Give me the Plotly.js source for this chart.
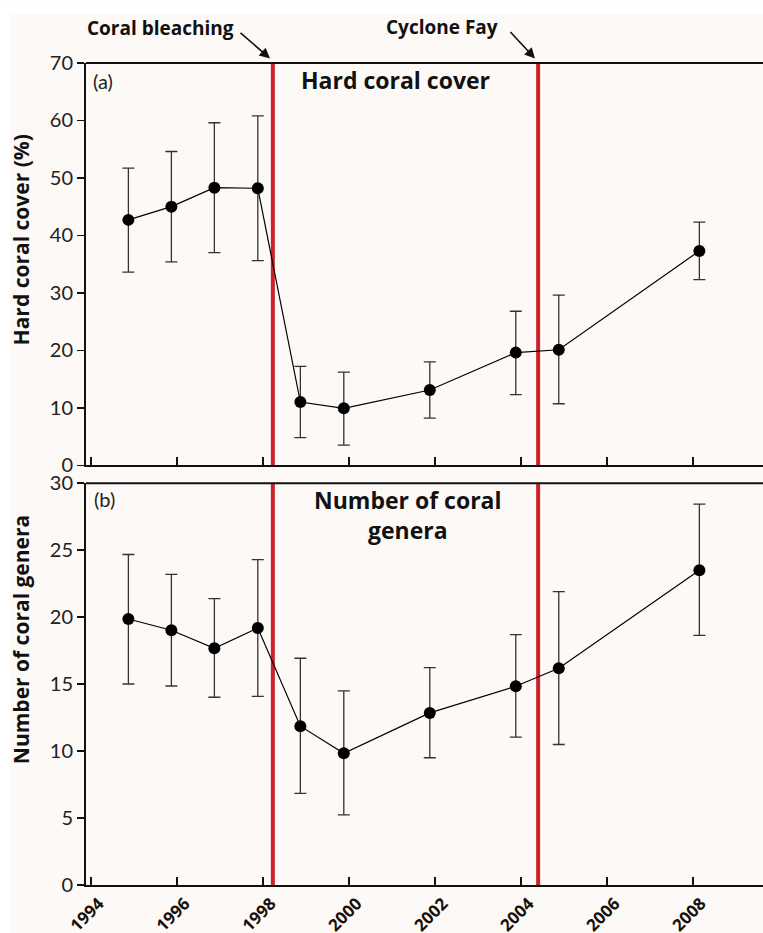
<!DOCTYPE html>
<html>
<head>
<meta charset="utf-8">
<script src="https://cdn.plot.ly/plotly-3.0.1.min.js"></script>
<style>html,body{margin:0;padding:0;background:#fff;}#chart{width:763px;height:933px;}</style>
</head>
<body>
<div id="chart"></div>
<script>
// ---- data ----
const surveyYears = [1994.87, 1995.87, 1996.87, 1997.88, 1998.87, 1999.88, 2001.88, 2003.88, 2004.88, 2008.15];

const coverMean  = [42.7, 45.0, 48.3, 48.2, 11.0, 9.9, 13.1, 19.6, 20.1, 37.3];
const coverUpper = [51.7, 54.6, 59.6, 60.8, 17.2, 16.2, 18.0, 26.8, 29.6, 42.3];
const coverLower = [33.6, 35.4, 37.0, 35.6, 4.8, 3.5, 8.2, 12.3, 10.7, 32.3];

const generaMean  = [19.86, 19.02, 17.67, 19.19, 11.86, 9.84, 12.85, 14.84, 16.18, 23.51];
const generaUpper = [24.68, 23.19, 21.38, 24.29, 16.93, 14.49, 16.23, 18.69, 21.90, 28.44];
const generaLower = [15.01, 14.86, 14.02, 14.09, 6.84, 5.24, 9.50, 11.04, 10.49, 18.64];

const eventYears  = [1998.23, 2004.40];
const eventLabels = ['Coral bleaching', 'Cyclone Fay'];

const xTickVals = [1994, 1996, 1998, 2000, 2002, 2004, 2006, 2008];
const xTickText = ['1994', '1996', '1998', '2000', '2002', '2004', '2006', '2008'];

const coverTicks  = [0, 10, 20, 30, 40, 50, 60, 70];
const generaTicks = [0, 5, 10, 15, 20, 25, 30];

// ---- layout helpers ----
const W = 763, H = 933, L = 86, R = 0, T = 62.5, B = 48;
const pw = W - L - R, ph = H - T - B;
const fx = px => (px - L) / pw;
const fy = py => (H - B - py) / ph;

const FONT = 'Lato, "Open Sans", sans-serif';
const BOLD = '"Open Sans", Lato, sans-serif';
const BG = '#fcf9f7';
const RED = '#cc2229';

function series(xa, ya, mean, upper, lower) {
  return {
    type: 'scatter', mode: 'lines+markers', xaxis: xa, yaxis: ya,
    x: surveyYears, y: mean,
    line: {color: '#000', width: 1.2},
    marker: {color: '#000', size: 12},
    error_y: {
      type: 'data', symmetric: false,
      array: upper.map((u, i) => u - mean[i]),
      arrayminus: mean.map((m, i) => m - lower[i]),
      color: '#333', thickness: 1.3, width: 6
    },
    hoverinfo: 'x+y', showlegend: false
  };
}

const data = [
  series('x2', 'y2', coverMean, coverUpper, coverLower),
  series('x', 'y', generaMean, generaUpper, generaLower)
];

const xCommon = {
  range: [1993.884, 2009.63], tickmode: 'array', tickvals: xTickVals, ticktext: xTickText,
  ticks: 'inside', ticklen: 8, tickwidth: 2, tickcolor: '#111',
  showline: true, linewidth: 2, linecolor: '#111',
  showgrid: false, zeroline: false, fixedrange: true
};
const yCommon = {
  ticks: 'outside', ticklen: 7, tickwidth: 1.5, tickcolor: '#111',
  showline: true, linewidth: 2, linecolor: '#111',
  showgrid: false, zeroline: false, tickmode: 'array',
  tickfont: {family: FONT, size: 20, color: '#222'}
};

const shapes = [
  // white margins of the scanned figure
  {type: 'rect', xref: 'paper', yref: 'paper', x0: fx(0), x1: fx(W), y0: fy(14), y1: fy(0),
   fillcolor: '#fff', line: {width: 0}, layer: 'below'},
  {type: 'rect', xref: 'paper', yref: 'paper', x0: fx(0), x1: fx(10), y0: fy(H), y1: fy(0),
   fillcolor: '#fff', line: {width: 0}, layer: 'below'},
  // top frame lines
  {type: 'line', xref: 'x2 domain', yref: 'y2 domain', x0: 0, x1: 1, y0: 1, y1: 1,
   line: {color: '#111', width: 2}},
  {type: 'line', xref: 'x domain', yref: 'y domain', x0: 0, x1: 1, y0: 1, y1: 1,
   line: {color: '#111', width: 2}}
];
eventYears.forEach(ev => {
  shapes.push({type: 'line', xref: 'x2', yref: 'y2 domain', x0: ev, x1: ev, y0: 0, y1: 1,
               line: {color: RED, width: 4}, layer: 'below'});
  shapes.push({type: 'line', xref: 'x', yref: 'y domain', x0: ev, x1: ev, y0: 0, y1: 1,
               line: {color: RED, width: 4}, layer: 'below'});
});

const boldF = s => ({family: BOLD, size: s, color: '#111', weight: 700});
const annotations = [
  {xref: 'paper', yref: 'paper', x: fx(160), y: fy(27), text: '<b>' + eventLabels[0] + '</b>',
   showarrow: false, xanchor: 'center', yanchor: 'middle', font: boldF(19)},
  {xref: 'paper', yref: 'paper', x: fx(442), y: fy(26), text: '<b>' + eventLabels[1] + '</b>',
   showarrow: false, xanchor: 'center', yanchor: 'middle', font: boldF(19)},
  {xref: 'paper', yref: 'paper', x: fx(270), y: fy(58), text: '', showarrow: true,
   ax: -31, ay: -27, arrowhead: 2, arrowsize: 1.3, arrowwidth: 1.6, arrowcolor: '#111', standoff: 0},
  {xref: 'paper', yref: 'paper', x: fx(535), y: fy(58), text: '', showarrow: true,
   ax: -26, ay: -28, arrowhead: 2, arrowsize: 1.3, arrowwidth: 1.6, arrowcolor: '#111', standoff: 0},
  {xref: 'paper', yref: 'paper', x: fx(395), y: fy(80), text: '<b>Hard coral cover</b>',
   showarrow: false, xanchor: 'center', yanchor: 'middle', font: boldF(23)},
  {xref: 'paper', yref: 'paper', x: fx(408), y: fy(515), text: '<b>Number of coral<br>genera</b>',
   showarrow: false, xanchor: 'center', yanchor: 'middle', align: 'center', font: boldF(23)},
  {xref: 'paper', yref: 'paper', x: fx(91), y: fy(81), text: '(a)',
   showarrow: false, xanchor: 'left', yanchor: 'middle', font: {family: FONT, size: 20, color: '#222'}},
  {xref: 'paper', yref: 'paper', x: fx(92), y: fy(499), text: '(b)',
   showarrow: false, xanchor: 'left', yanchor: 'middle', font: {family: FONT, size: 20, color: '#222'}},
  // axis titles
  {xref: 'paper', yref: 'paper', x: fx(21), y: fy(240), text: '<b>Hard coral cover (%)</b>',
   textangle: -90, showarrow: false, xanchor: 'center', yanchor: 'middle', font: boldF(21)},
  {xref: 'paper', yref: 'paper', x: fx(21), y: fy(640), text: '<b>Number of coral genera</b>',
   textangle: -90, showarrow: false, xanchor: 'center', yanchor: 'middle', font: boldF(21)}
];

const layout = {
  width: W, height: H,
  margin: {l: L, r: R, t: T, b: B, pad: 0},
  paper_bgcolor: BG, plot_bgcolor: BG,
  showlegend: false,
  font: {family: FONT, color: '#111'},
  xaxis: Object.assign({}, xCommon, {anchor: 'y', domain: [0, 1], tickangle: -45,
    ticklabelshift: 8, ticklabelstandoff: 0,
    tickfont: {family: BOLD, size: 17, color: '#111', weight: 700}}),
  xaxis2: Object.assign({}, xCommon, {anchor: 'y2', domain: [0, 1], matches: 'x', showticklabels: false}),
  yaxis: Object.assign({}, yCommon, {anchor: 'x', domain: [0, fy(483)], range: [0, 30],
    tickvals: generaTicks}),
  yaxis2: Object.assign({}, yCommon, {anchor: 'x2', domain: [fy(465), 1], range: [0, 70],
    tickvals: coverTicks}),
  shapes: shapes,
  annotations: annotations
};

Plotly.newPlot('chart', data, layout, {displayModeBar: false, staticPlot: true});
</script>
</body>
</html>
